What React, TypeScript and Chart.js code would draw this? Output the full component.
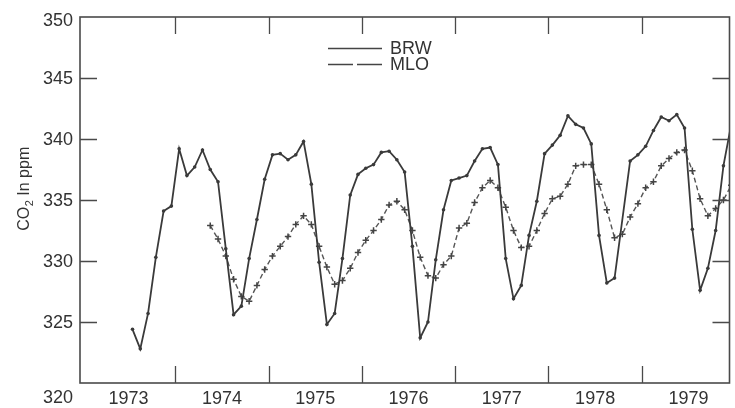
import React, { useEffect, useRef } from "react";
import { Chart, registerables } from "chart.js";

Chart.register(...registerables);

// Monthly CO2 concentrations (ppm), index 0 = January
const brw1973 = [null, null, null, null, null, null, 324.4, 322.8, 325.7, 330.3, 334.1, 334.5];
const brw1974 = [339.2, 337.0, 337.7, 339.1, 337.5, 336.5, 331.0, 325.6, 326.3, 330.2, 333.4, 336.7];
const brw1975 = [338.7, 338.8, 338.3, 338.7, 339.8, 336.3, 329.9, 324.8, 325.7, 330.2, 335.4, 337.1];
const brw1976 = [337.6, 337.9, 338.9, 339.0, 338.3, 337.3, 331.2, 323.7, 325.0, 330.1, 334.2, 336.6];
const brw1977 = [336.8, 337.0, 338.2, 339.2, 339.3, 337.9, 330.2, 326.9, 328.0, 332.1, 334.9, 338.8];
const brw1978 = [339.5, 340.3, 341.9, 341.2, 340.9, 339.6, 332.1, 328.2, 328.6, null, 338.2, 338.7];
const brw1979 = [339.4, 340.7, 341.8, 341.5, 342.0, 340.9, 332.6, 327.6, 329.4, 332.5, 337.8, 341.2];

const mlo1974 = [null, null, null, null, 332.9, 331.8, 330.4, 328.5, 327.1, 326.7, 328.0, 329.3];
const mlo1975 = [330.4, 331.2, 332.0, 333.0, 333.7, 333.0, 331.2, 329.5, 328.1, 328.4, 329.4, 330.7];
const mlo1976 = [331.7, 332.5, 333.4, 334.6, 334.9, 334.2, 332.5, 330.3, 328.8, 328.6, 329.7, 330.4];
const mlo1977 = [332.7, 333.1, 334.8, 336.0, 336.6, 336.0, 334.4, 332.5, 331.1, 331.2, 332.5, 333.9];
const mlo1978 = [335.1, 335.3, 336.3, 337.8, 337.9, 337.9, 336.3, 334.2, 331.9, 332.2, 333.6, 334.7];
const mlo1979 = [336.0, 336.5, 337.8, 338.4, 338.9, 339.1, 337.4, 335.1, 333.7, 334.3, 335.0, 336.2];

const yearLabels = [1973, 1974, 1975, 1976, 1977, 1978, 1979];
const yearBoundaries = [1974, 1975, 1976, 1977, 1978, 1979];
const yTickValues = [320, 325, 330, 335, 340, 345, 350];
const seriesNames = ["BRW", "MLO"];
const yTitle = ["CO", "2", " In ppm"];

const X_MIN = 1972.979;
const X_MAX = 1979.94;

function toPoints(years: { year: number; values: (number | null)[] }[], skipLeading: boolean) {
  const pts: { x: number; y: number | null }[] = [];
  years.forEach(({ year, values }) => {
    values.forEach((v, m) => {
      const x = year + (m + 0.5) / 12;
      if (v === null && skipLeading && pts.length === 0) return;
      pts.push({ x, y: v });
    });
  });
  return pts;
}

const brwPoints = toPoints(
  [
    { year: 1973, values: brw1973 },
    { year: 1974, values: brw1974 },
    { year: 1975, values: brw1975 },
    { year: 1976, values: brw1976 },
    { year: 1977, values: brw1977 },
    { year: 1978, values: brw1978 },
    { year: 1979, values: brw1979 },
  ],
  true
);
const mloPoints = toPoints(
  [
    { year: 1974, values: mlo1974 },
    { year: 1975, values: mlo1975 },
    { year: 1976, values: mlo1976 },
    { year: 1977, values: mlo1977 },
    { year: 1978, values: mlo1978 },
    { year: 1979, values: mlo1979 },
  ],
  true
);

const FONT = '"Liberation Sans", Arial, Helvetica, sans-serif';
const TEXT = "#333333";
const AXIS = "#4a4a4a";

const decorPlugin = {
  id: "decor",
  afterDraw(chart: any) {
    const { ctx, chartArea } = chart;
    const xs = chart.scales.x;
    const ys = chart.scales.y;
    const { left, right, top, bottom } = chartArea;
    ctx.save();
    // frame
    ctx.strokeStyle = AXIS;
    ctx.lineWidth = 1.6;
    ctx.strokeRect(left, top, right - left, bottom - top);
    // x tick marks (inward, top and bottom)
    const tl = 17;
    ctx.lineWidth = 1.3;
    ctx.beginPath();
    yearBoundaries.forEach((yr) => {
      const px = Math.round(xs.getPixelForValue(yr)) + 0.5;
      ctx.moveTo(px, bottom);
      ctx.lineTo(px, bottom - tl);
      ctx.moveTo(px, top);
      ctx.lineTo(px, top + tl);
    });
    yTickValues.forEach((v) => {
      if (v === 320 || v === 350) return;
      const py = Math.round(ys.getPixelForValue(v)) + 0.5;
      ctx.moveTo(left, py);
      ctx.lineTo(left + tl, py);
      ctx.moveTo(right, py);
      ctx.lineTo(right - tl, py);
    });
    ctx.stroke();
    // y tick labels
    ctx.fillStyle = TEXT;
    ctx.font = `18px ${FONT}`;
    ctx.textAlign = "right";
    ctx.textBaseline = "middle";
    yTickValues.forEach((v) => {
      const py = ys.getPixelForValue(v);
      const off = v === 320 ? 15 : v === 350 ? 4 : 1;
      ctx.fillText(String(v), left - 7, py + off);
    });
    // y title
    ctx.save();
    ctx.translate(23, 189);
    ctx.rotate(-Math.PI / 2);
    ctx.font = `16px ${FONT}`;
    const wCO = ctx.measureText(yTitle[0]).width;
    ctx.font = `11px ${FONT}`;
    const w2 = ctx.measureText(yTitle[1]).width;
    ctx.font = `16px ${FONT}`;
    const wRest = ctx.measureText(yTitle[2]).width;
    const total = wCO + w2 + wRest;
    let x0 = -total / 2;
    ctx.textAlign = "left";
    ctx.textBaseline = "alphabetic";
    ctx.fillText(yTitle[0], x0, 6);
    ctx.font = `11px ${FONT}`;
    ctx.fillText(yTitle[1], x0 + wCO + 0.5, 10);
    ctx.font = `16px ${FONT}`;
    ctx.fillText(yTitle[2], x0 + wCO + w2 + 0.5, 6);
    ctx.restore();
    // legend
    ctx.strokeStyle = "#444";
    ctx.lineWidth = 1.4;
    ctx.beginPath();
    ctx.moveTo(328, 48.5);
    ctx.lineTo(382, 48.5);
    ctx.stroke();
    ctx.setLineDash([25, 4]);
    ctx.beginPath();
    ctx.moveTo(328, 64.5);
    ctx.lineTo(382, 64.5);
    ctx.stroke();
    ctx.setLineDash([]);
    ctx.font = `18px ${FONT}`;
    ctx.textAlign = "left";
    ctx.textBaseline = "middle";
    ctx.fillStyle = TEXT;
    ctx.fillText(seriesNames[0], 390, 49);
    ctx.fillText(seriesNames[1], 390, 65);
    ctx.restore();
  },
};

export default function App() {
  const ref = useRef<HTMLCanvasElement | null>(null);
  useEffect(() => {
    if (!ref.current) return;
    const chart = new Chart(ref.current, {
      type: "line",
      data: {
        datasets: [
          {
            label: seriesNames[0],
            data: brwPoints as any,
            borderColor: "#3a3a3a",
            backgroundColor: "#3a3a3a",
            borderWidth: 1.8,
            pointRadius: 1.8,
            pointStyle: "circle",
            pointBorderWidth: 0,
            spanGaps: true,
            tension: 0,
          },
          {
            label: seriesNames[1],
            data: mloPoints as any,
            borderColor: "#555555",
            backgroundColor: "#555555",
            borderWidth: 1.4,
            borderDash: [5, 3],
            pointRadius: 3.2,
            pointStyle: "cross",
            pointBorderWidth: 1.5,
            pointBorderColor: "#444",
            spanGaps: true,
            tension: 0,
          },
        ],
      },
      options: {
        animation: false,
        responsive: false,
        devicePixelRatio: 1,
        parsing: true,
        layout: { padding: { top: 17, right: 2, left: 0, bottom: 0 } },
        plugins: { legend: { display: false }, tooltip: { enabled: false }, title: { display: false } },
        scales: {
          x: {
            type: "linear",
            min: X_MIN,
            max: X_MAX,
            grid: { display: false, drawTicks: false },
            border: { display: false },
            afterBuildTicks: (s: any) => {
              s.ticks = yearLabels.map((y) => ({ value: y + 0.5 }));
            },
            afterFit: (s: any) => {
              s.height = 25;
            },
            ticks: {
              autoSkip: false,
              maxRotation: 0,
              padding: 5,
              color: TEXT,
              font: { family: FONT, size: 18 },
              callback: (v: any) => String(Math.floor(Number(v))),
            },
          },
          y: {
            type: "linear",
            min: 320,
            max: 350,
            grid: { display: false, drawTicks: false },
            border: { display: false },
            ticks: { display: false },
            afterFit: (s: any) => {
              s.width = 80;
            },
          },
        },
      },
      plugins: [decorPlugin],
    });
    return () => chart.destroy();
  }, []);
  return (
    <div style={{ position: "fixed", left: 0, top: 0, width: 735, height: 408, overflow: "hidden", background: "#fff" }}>
      <canvas ref={ref} width={735} height={408} style={{ display: "block", width: 735, height: 408 }} />
    </div>
  );
}
